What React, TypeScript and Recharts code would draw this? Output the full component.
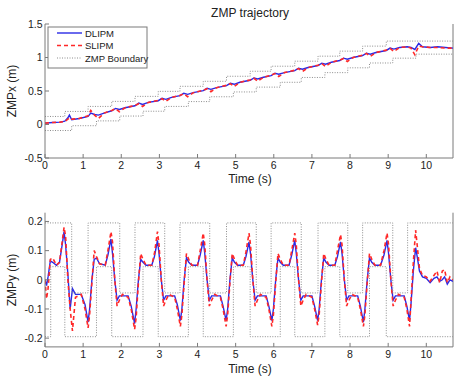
import React from 'react';
import { LineChart, Line, XAxis, YAxis, ReferenceLine } from 'recharts';

// ---------- bottom plot (ZMPy) ----------
const timeY = [
  0, 0.04, 0.08, 0.14, 0.2, 0.3, 0.38, 0.45,
  0.5, 0.54, 0.6, 0.66, 0.72, 0.8, 0.95, 1.05,
  1.13, 1.17, 1.23, 1.29, 1.35, 1.43, 1.58, 1.65,
  1.73, 1.77, 1.83, 1.89, 1.95, 2.03, 2.18, 2.26,
  2.35, 2.39, 2.45, 2.51, 2.57, 2.65, 2.8, 2.87,
  2.95, 2.99, 3.05, 3.11, 3.17, 3.25, 3.4, 3.47,
  3.55, 3.59, 3.65, 3.71, 3.77, 3.85, 4.0, 4.07,
  4.15, 4.19, 4.25, 4.31, 4.37, 4.45, 4.6, 4.67,
  4.75, 4.79, 4.85, 4.91, 4.97, 5.05, 5.2, 5.27,
  5.35, 5.39, 5.45, 5.51, 5.57, 5.65, 5.8, 5.87,
  5.95, 5.99, 6.05, 6.11, 6.17, 6.25, 6.4, 6.47,
  6.55, 6.59, 6.65, 6.71, 6.77, 6.85, 7.0, 7.07,
  7.15, 7.19, 7.25, 7.31, 7.37, 7.45, 7.6, 7.67,
  7.75, 7.79, 7.85, 7.91, 7.97, 8.05, 8.2, 8.27,
  8.35, 8.39, 8.45, 8.51, 8.57, 8.65, 8.8, 8.89,
  8.97, 9.01, 9.07, 9.13, 9.19, 9.27, 9.42, 9.49,
  9.56, 9.6, 9.66, 9.72, 9.76, 9.82, 9.9, 10.0, 10.1, 10.2, 10.28, 10.35, 10.42, 10.48, 10.55, 10.62, 10.7,
];
const dlipmY = [
  0, -0.02, 0.01, 0.065, 0.06, 0.05, 0.06, 0.12,
  0.165, 0.12, 0.02, -0.1, -0.03, -0.05, -0.05, -0.085,
  -0.145, -0.1, 0.0, 0.07, 0.075, 0.055, 0.05, 0.085,
  0.14, 0.09, 0.0, -0.07, -0.055, -0.055, -0.055, -0.09,
  -0.15, -0.1, 0.0, 0.07, 0.06, 0.05, 0.05, 0.08,
  0.135, 0.09, 0.0, -0.07, -0.055, -0.055, -0.055, -0.085,
  -0.14, -0.1, 0.0, 0.075, 0.06, 0.05, 0.05, 0.085,
  0.135, 0.09, 0.0, -0.07, -0.055, -0.055, -0.055, -0.09,
  -0.14, -0.1, 0.0, 0.075, 0.06, 0.05, 0.05, 0.08,
  0.13, 0.09, 0.0, -0.07, -0.055, -0.055, -0.055, -0.09,
  -0.14, -0.1, 0.0, 0.075, 0.06, 0.05, 0.05, 0.085,
  0.135, 0.09, 0.0, -0.07, -0.055, -0.055, -0.055, -0.09,
  -0.14, -0.1, 0.0, 0.075, 0.06, 0.05, 0.05, 0.08,
  0.13, 0.09, 0.0, -0.07, -0.055, -0.055, -0.055, -0.09,
  -0.145, -0.1, 0.0, 0.075, 0.06, 0.05, 0.05, 0.085,
  0.135, 0.09, 0.0, -0.07, -0.055, -0.055, -0.055, -0.09,
  -0.14, -0.08, 0.03, 0.11, 0.08, 0.03, 0.01, 0.005, -0.01, 0.005, 0.01, -0.005, 0.0, 0.01, -0.015, 0.0, -0.005,
];
const slipmY = [
  0, -0.065, -0.03, 0.07, 0.075, 0.05, 0.06, 0.13,
  0.18, 0.15, 0.0, -0.1, -0.175, -0.06, -0.05, -0.1,
  -0.165, -0.12, -0.01, 0.1, 0.08, 0.055, 0.05, 0.1,
  0.165, 0.13, 0.0, -0.09, -0.07, -0.05, -0.06, -0.1,
  -0.17, -0.13, -0.01, 0.09, 0.07, 0.05, 0.05, 0.09,
  0.165, 0.12, 0.0, -0.09, -0.07, -0.05, -0.06, -0.1,
  -0.16, -0.12, -0.01, 0.09, 0.07, 0.05, 0.05, 0.1,
  0.16, 0.12, 0.0, -0.09, -0.07, -0.05, -0.06, -0.1,
  -0.16, -0.12, -0.01, 0.09, 0.07, 0.05, 0.05, 0.095,
  0.16, 0.12, 0.0, -0.09, -0.07, -0.05, -0.06, -0.1,
  -0.16, -0.12, -0.01, 0.09, 0.07, 0.05, 0.05, 0.1,
  0.16, 0.12, 0.0, -0.09, -0.07, -0.05, -0.06, -0.1,
  -0.155, -0.12, -0.01, 0.09, 0.07, 0.05, 0.05, 0.1,
  0.155, 0.12, 0.0, -0.09, -0.07, -0.05, -0.06, -0.1,
  -0.16, -0.12, -0.01, 0.09, 0.07, 0.05, 0.05, 0.1,
  0.16, 0.12, 0.0, -0.09, -0.07, -0.05, -0.06, -0.1,
  -0.16, -0.07, 0.06, 0.17, 0.12, 0.04, 0.015, 0.01, -0.005, 0.015, 0.03, -0.01, 0.03, 0.035, -0.01, 0.01, 0.0,
];
const bndYUpperT = [0, 0.7, 1.13, 1.96, 2.36, 3.14, 3.54, 4.32, 4.76, 5.54, 5.93, 6.72, 7.16, 7.94, 8.33, 9.12, 9.51, 10.7];
const bndYUpperV = [0.195, -0.045, 0.195, -0.045, 0.195, -0.045, 0.195, -0.045, 0.195, -0.045, 0.195, -0.045, 0.195, -0.045, 0.195, -0.045, 0.195, 0.195];
const bndYLowerT = [0, 0.15, 0.52, 1.35, 1.75, 2.57, 2.97, 3.76, 4.15, 4.94, 5.38, 6.17, 6.55, 7.34, 7.73, 8.51, 8.95, 10.7];
const bndYLowerV = [-0.195, 0.045, -0.195, 0.045, -0.195, 0.045, -0.195, 0.045, -0.195, 0.045, -0.195, 0.045, -0.195, 0.045, -0.195, 0.045, -0.195, -0.195];

// ---------- top plot (ZMPx) ----------
const timeX = [
  0, 0.2, 0.4, 0.52, 0.6, 0.64, 0.7, 0.9,
  1.13, 1.2, 1.3, 1.4, 1.55,
  1.75, 1.85, 1.95, 2.1,
  2.36, 2.46, 2.56, 2.71,
  2.97, 3.07, 3.17, 3.32,
  3.54, 3.64, 3.74, 3.89,
  4.15, 4.25, 4.35, 4.5,
  4.76, 4.86, 4.96, 5.11,
  5.38, 5.48, 5.58, 5.73,
  5.93, 6.03, 6.13, 6.28,
  6.55, 6.65, 6.75, 6.9,
  7.16, 7.26, 7.36, 7.51,
  7.73, 7.83, 7.93, 8.08,
  8.33, 8.43, 8.53, 8.68,
  8.95, 9.05, 9.15, 9.3,
  9.5, 9.6, 9.7, 9.8, 9.9, 10.1, 10.3, 10.5, 10.7,
];
const dlipmX = [
  0.02, 0.03, 0.035, 0.05, 0.1, 0.14, 0.07, 0.09,
  0.12, 0.17, 0.15, 0.14, 0.17,
  0.205, 0.24, 0.225, 0.25,
  0.28, 0.32, 0.3, 0.33,
  0.355, 0.39, 0.375, 0.405,
  0.43, 0.465, 0.45, 0.475,
  0.505, 0.54, 0.525, 0.55,
  0.58, 0.615, 0.6, 0.63,
  0.66, 0.695, 0.68, 0.705,
  0.73, 0.765, 0.75, 0.775,
  0.805, 0.84, 0.825, 0.85,
  0.88, 0.915, 0.9, 0.93,
  0.955, 0.99, 0.975, 1.0,
  1.03, 1.065, 1.05, 1.075,
  1.105, 1.14, 1.125, 1.15,
  1.16, 1.15, 1.12, 1.21, 1.16, 1.15, 1.16, 1.15, 1.14,
];
const slipmX = [
  0.02, 0.03, 0.035, 0.045, 0.08, 0.1, 0.08, 0.09,
  0.13, 0.21, 0.14, 0.09, 0.17,
  0.21, 0.235, 0.19, 0.25,
  0.285, 0.31, 0.27, 0.33,
  0.36, 0.385, 0.345, 0.405,
  0.434, 0.46, 0.415, 0.475,
  0.51, 0.535, 0.49, 0.55,
  0.585, 0.61, 0.565, 0.63,
  0.665, 0.69, 0.645, 0.705,
  0.735, 0.76, 0.715, 0.775,
  0.81, 0.835, 0.79, 0.85,
  0.885, 0.91, 0.865, 0.93,
  0.96, 0.985, 0.94, 1.0,
  1.035, 1.06, 1.015, 1.075,
  1.11, 1.135, 1.09, 1.15,
  1.16, 1.14, 1.04, 1.17, 1.16, 1.15, 1.15, 1.14, 1.14,
];
const bndXUpperT = [0, 0.52, 1.13, 1.75, 2.36, 2.97, 3.54, 4.15, 4.76, 5.38, 5.93, 6.55, 7.16, 7.73, 8.33, 8.95, 10.7];
const bndXUpperV = [0.12, 0.195, 0.27, 0.345, 0.42, 0.495, 0.57, 0.645, 0.72, 0.795, 0.87, 0.945, 1.02, 1.095, 1.17, 1.245, 1.245];
const bndXLowerT = [0, 0.7, 1.35, 1.96, 2.57, 3.14, 3.76, 4.32, 4.94, 5.54, 6.17, 6.72, 7.34, 7.94, 8.51, 9.12, 9.73, 10.7];
const bndXLowerV = [-0.09, -0.018, 0.054, 0.126, 0.198, 0.27, 0.342, 0.414, 0.486, 0.558, 0.63, 0.702, 0.774, 0.846, 0.918, 0.99, 1.05, 1.05];

const xTicks = [0, 1, 2, 3, 4, 5, 6, 7, 8, 9, 10];
const topYTicks = [-0.5, 0, 0.5, 1, 1.5];
const botYTicks = [-0.2, -0.1, 0, 0.1, 0.2];

const title = 'ZMP trajectory';
const xLabel = 'Time (s)';
const topYLabel = 'ZMPx (m)';
const botYLabel = 'ZMPy (m)';
const legendNames = ['DLIPM', 'SLIPM', 'ZMP Boundary'];

const zip = (t: number[], v: number[]) => t.map((x, i) => ({ t: x, v: v[i] }));

const FONT = '"Liberation Sans", Arial, Helvetica, sans-serif';
const AXIS = '#7a7a7a';
const TEXT = '#222';
const BLUE = '#2a2ae6';
const RED = '#ff2828';
const GRAY = '#8c8c8c';
const XMAX = 10.7;

const tickStyle = { fontSize: 10.5, fill: TEXT, fontFamily: FONT };

function fmt(v: number) {
  return String(Number(v.toFixed(2)));
}

function Panel(props: {
  top: number;
  height: number;
  marginTop: number;
  marginBottom: number;
  yDomain: [number, number];
  yTicks: number[];
  dl: { t: number; v: number }[];
  sl: { t: number; v: number }[];
  bu: { t: number; v: number }[];
  bl: { t: number; v: number }[];
}) {
  return (
    <div style={{ position: 'absolute', left: 0, top: props.top, width: 454, height: props.height }}>
      <LineChart
        width={454}
        height={props.height}
        margin={{ top: props.marginTop, right: 1, bottom: props.marginBottom, left: 0 }}
      >
        <XAxis
          dataKey="t"
          type="number"
          domain={[0, XMAX]}
          allowDataOverflow
          ticks={xTicks}
          tickFormatter={(v: number) => String(v)}
          height={30}
          tickSize={-4}
          tickMargin={7.5}
          tick={tickStyle}
          stroke={AXIS}
          axisLine={{ stroke: AXIS }}
          tickLine={{ stroke: AXIS }}
        />
        <XAxis
          xAxisId="top"
          orientation="top"
          dataKey="t"
          type="number"
          domain={[0, XMAX]}
          allowDataOverflow
          ticks={xTicks}
          tickFormatter={() => ''}
          height={0}
          tickSize={-4}
          stroke={AXIS}
          axisLine={{ stroke: AXIS }}
          tickLine={{ stroke: AXIS }}
        />
        <YAxis
          type="number"
          domain={props.yDomain}
          allowDataOverflow
          ticks={props.yTicks}
          tickFormatter={fmt}
          width={45}
          tickSize={-4}
          tickMargin={6.5}
          tick={tickStyle}
          stroke={AXIS}
          axisLine={{ stroke: AXIS }}
          tickLine={{ stroke: AXIS }}
        />
        <ReferenceLine x={XMAX} stroke={AXIS} ifOverflow="extendDomain" />
        <Line data={props.dl} dataKey="v" type="linear" stroke={BLUE} strokeWidth={1.4} dot={false} isAnimationActive={false} />
        <Line data={props.sl} dataKey="v" type="linear" stroke={RED} strokeWidth={1.6} strokeDasharray="4 3" dot={false} isAnimationActive={false} />
        <Line data={props.bu} dataKey="v" type="stepAfter" stroke={GRAY} strokeWidth={1} strokeDasharray="1 1.5" dot={false} isAnimationActive={false} />
        <Line data={props.bl} dataKey="v" type="stepAfter" stroke={GRAY} strokeWidth={1} strokeDasharray="1 1.5" dot={false} isAnimationActive={false} />
      </LineChart>
    </div>
  );
}

export default function App() {
  return (
    <div style={{ position: 'absolute', left: 0, top: 0, width: 454, height: 379, background: '#fff', overflow: 'hidden' }}>
      <Panel
        top={0}
        height={190}
        marginTop={24}
        marginBottom={2}
        yDomain={[-0.5, 1.5]}
        yTicks={topYTicks}
        dl={zip(timeX, dlipmX)}
        sl={zip(timeX, slipmX)}
        bu={zip(bndXUpperT, bndXUpperV)}
        bl={zip(bndXLowerT, bndXLowerV)}
      />
      <Panel
        top={190}
        height={189}
        marginTop={22.7}
        marginBottom={2.1}
        yDomain={[-0.23, 0.23]}
        yTicks={botYTicks}
        dl={zip(timeY, dlipmY)}
        sl={zip(timeY, slipmY)}
        bu={zip(bndYUpperT, bndYUpperV)}
        bl={zip(bndYLowerT, bndYLowerV)}
      />
      <svg width={454} height={379} style={{ position: 'absolute', left: 0, top: 0, pointerEvents: 'none' }}>
        <g fontFamily={FONT} fill={TEXT}>
          <text x={250} y={16.5} fontSize={12} textAnchor="middle">{title}</text>
          <text x={250} y={183} fontSize={12} textAnchor="middle">{xLabel}</text>
          <text x={250} y={372.5} fontSize={12} textAnchor="middle">{xLabel}</text>
          <text x={16} y={91} fontSize={12} textAnchor="middle" transform="rotate(-90 16 91)">{topYLabel}</text>
          <text x={16} y={280} fontSize={12} textAnchor="middle" transform="rotate(-90 16 280)">{botYLabel}</text>
        </g>
        <g>
          <rect x={48} y={27} width={99} height={41} fill="#fff" stroke={AXIS} strokeWidth={1} />
          <line x1={57} y1={33} x2={82} y2={33} stroke={BLUE} strokeWidth={1.4} />
          <line x1={57} y1={45.5} x2={82} y2={45.5} stroke={RED} strokeWidth={1.6} strokeDasharray="4 3" />
          <line x1={57} y1={58} x2={82} y2={58} stroke={GRAY} strokeWidth={1} strokeDasharray="1 1.5" />
          <g fontFamily={FONT} fill={TEXT} fontSize={9.5}>
            <text x={85} y={36.5}>{legendNames[0]}</text>
            <text x={85} y={49}>{legendNames[1]}</text>
            <text x={85} y={61.5}>{legendNames[2]}</text>
          </g>
        </g>
      </svg>
    </div>
  );
}
